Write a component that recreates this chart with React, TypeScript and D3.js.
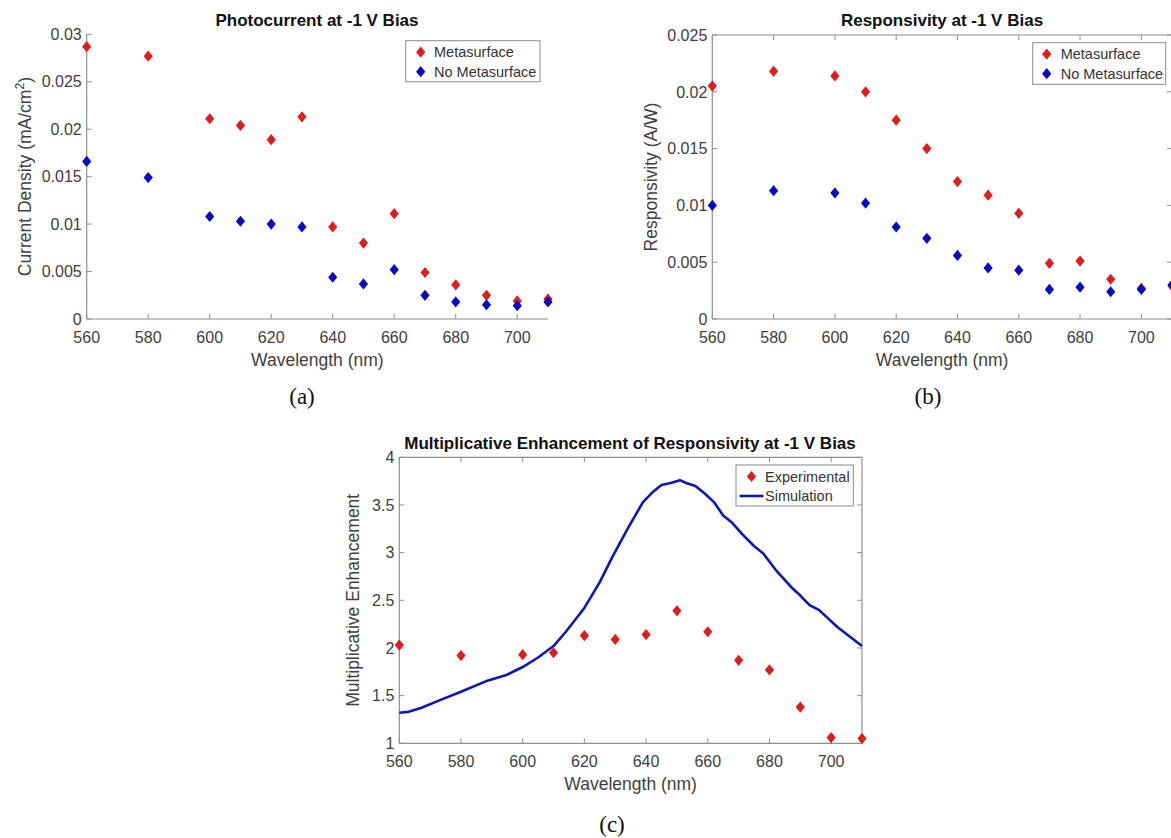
import React from 'react';
import * as d3 from 'd3';

// Wavelengths (nm) at which the photodetectors were measured
const wavelengths = [560, 580, 600, 610, 620, 630, 640, 650, 660, 670, 680, 690, 700, 710];

// (a) Photocurrent density at -1 V (mA/cm^2)
const currentMeta = [0.0287, 0.0277, 0.0211, 0.0204, 0.0189, 0.0213, 0.0097, 0.008, 0.0111, 0.0049, 0.0036, 0.0025, 0.0019, 0.0021];
const currentNoMeta = [0.0166, 0.0149, 0.0108, 0.0103, 0.01, 0.0097, 0.0044, 0.0037, 0.0052, 0.0025, 0.0018, 0.0015, 0.0014, 0.0018];

// (b) Responsivity at -1 V (A/W)
const respMeta = [0.0205, 0.0218, 0.0214, 0.02, 0.0175, 0.015, 0.0121, 0.0109, 0.0093, 0.0049, 0.0051, 0.0035, 0.0027, 0.0029];
const respNoMeta = [0.01, 0.0113, 0.0111, 0.0102, 0.0081, 0.0071, 0.0056, 0.0045, 0.0043, 0.0026, 0.0028, 0.0024, 0.0026, 0.003];

// (c) Enhancement factor, measured and simulated
const enhancementExp = [2.03, 1.92, 1.93, 1.95, 2.13, 2.09, 2.14, 2.39, 2.17, 1.87, 1.77, 1.38, 1.06, 1.05];
const simWavelengths = [560, 563, 567, 573, 580, 588, 595, 600, 605, 610, 614, 620, 625, 629, 634, 639, 642, 645, 648, 651, 653, 656, 659, 662, 665, 668, 671, 675, 678, 682, 687, 690, 693, 696, 699, 702, 706, 710];
const simEnhancement = [1.32, 1.33, 1.37, 1.45, 1.54, 1.65, 1.72, 1.8, 1.9, 2.02, 2.17, 2.42, 2.69, 2.95, 3.25, 3.53, 3.63, 3.71, 3.73, 3.76, 3.73, 3.7, 3.62, 3.53, 3.39, 3.31, 3.2, 3.07, 2.99, 2.82, 2.64, 2.55, 2.45, 2.4, 2.31, 2.22, 2.12, 2.02];

// Axis ticks
const xTicks = [560, 580, 600, 620, 640, 660, 680, 700];
const currentTicks = [0, 0.005, 0.01, 0.015, 0.02, 0.025, 0.03];
const respTicks = [0, 0.005, 0.01, 0.015, 0.02, 0.025];
const enhTicks = [1, 1.5, 2, 2.5, 3, 3.5, 4];

const RED = '#e01c1c';
const BLUE = '#0a0ac2';
const LINE_BLUE = '#0c16b8';
const AXIS = '#8f8f8f';
const TICK_TEXT = '#404040';
const SANS = '"Liberation Sans", Arial, Helvetica, sans-serif';
const SERIF = '"Liberation Serif", "Times New Roman", serif';

const fmt = d3.format('~g');

type Series = {
  kind: 'markers' | 'line';
  xs: number[];
  ys: number[];
  color: string;
  name: string;
};

type PanelProps = {
  left: number;
  right: number;
  top: number;
  bottom: number;
  yDomain: [number, number];
  yTicks: number[];
  title: string;
  titleX: number;
  titleY: number;
  yLabel: React.ReactNode;
  yLabelX: number;
  xLabelY: number;
  box: boolean;
  series: Series[];
  legend: { x: number; y: number; w: number; h: number; textX: number; markX: number };
  caption: string;
  captionX: number;
  captionY: number;
};

function Diamond({ cx, cy, color }: { cx: number; cy: number; color: string }) {
  const w = 4.6;
  const h = 5.6;
  return <path d={`M${cx},${cy - h}L${cx + w},${cy}L${cx},${cy + h}L${cx - w},${cy}Z`} fill={color} />;
}

function Panel(p: PanelProps) {
  const x = d3.scaleLinear().domain([560, 710]).range([p.left, p.right]);
  const y = d3.scaleLinear().domain(p.yDomain).range([p.bottom, p.top]);
  const tick = 5;
  const line = d3
    .line<[number, number]>()
    .x((d) => x(d[0]))
    .y((d) => y(d[1]));

  return (
    <g>
      {/* title */}
      <text x={p.titleX} y={p.titleY} textAnchor="middle" fontFamily={SANS} fontWeight="bold" fontSize={17} fill="#111">
        {p.title}
      </text>

      {/* axes */}
      <line x1={p.left} x2={p.right} y1={p.bottom} y2={p.bottom} stroke={AXIS} strokeWidth={1.2} />
      <line x1={p.left} x2={p.left} y1={p.top} y2={p.bottom} stroke={AXIS} strokeWidth={1.2} />
      {p.box && (
        <g>
          <line x1={p.left} x2={p.right} y1={p.top} y2={p.top} stroke={AXIS} strokeWidth={1.2} />
          <line x1={p.right} x2={p.right} y1={p.top} y2={p.bottom} stroke={AXIS} strokeWidth={1.2} />
        </g>
      )}

      {/* x ticks */}
      {xTicks.map((t) => (
        <g key={'x' + t}>
          <line x1={x(t)} x2={x(t)} y1={p.bottom} y2={p.bottom - tick} stroke={AXIS} strokeWidth={1} />
          {p.box && <line x1={x(t)} x2={x(t)} y1={p.top} y2={p.top + tick} stroke={AXIS} strokeWidth={1} />}
          <text x={x(t)} y={p.bottom + 23.5} textAnchor="middle" fontFamily={SANS} fontSize={16} fill={TICK_TEXT}>
            {fmt(t)}
          </text>
        </g>
      ))}

      {/* y ticks */}
      {p.yTicks.map((t) => (
        <g key={'y' + t}>
          <line x1={p.left} x2={p.left + tick} y1={y(t)} y2={y(t)} stroke={AXIS} strokeWidth={1} />
          {p.box && <line x1={p.right} x2={p.right - tick} y1={y(t)} y2={y(t)} stroke={AXIS} strokeWidth={1} />}
          <text x={p.left - 5} y={y(t) + 5.7} textAnchor="end" fontFamily={SANS} fontSize={16} fill={TICK_TEXT}>
            {fmt(t)}
          </text>
        </g>
      ))}

      {/* axis labels */}
      <text
        x={(p.left + p.right) / 2}
        y={p.xLabelY}
        textAnchor="middle"
        fontFamily={SANS}
        fontSize={17.5}
        fill={TICK_TEXT}
      >
        Wavelength (nm)
      </text>
      <text
        transform={`translate(${p.yLabelX},${(p.top + p.bottom) / 2}) rotate(-90)`}
        textAnchor="middle"
        fontFamily={SANS}
        fontSize={17.5}
        fill={TICK_TEXT}
      >
        {p.yLabel}
      </text>

      {/* data */}
      {p.series.map((s) =>
        s.kind === 'line' ? (
          <path
            key={s.name}
            d={line(s.xs.map((v, i) => [v, s.ys[i]] as [number, number])) || ''}
            fill="none"
            stroke={s.color}
            strokeWidth={2.6}
            strokeLinejoin="round"
          />
        ) : (
          <g key={s.name}>
            {s.xs.map((v, i) => (
              <Diamond key={i} cx={x(v)} cy={y(s.ys[i])} color={s.color} />
            ))}
          </g>
        )
      )}

      {/* legend */}
      <g>
        <rect x={p.legend.x} y={p.legend.y} width={p.legend.w} height={p.legend.h} fill="#fff" stroke="#8a8a8a" strokeWidth={1} />
        {p.series.map((s, i) => {
          const rowY = p.legend.y + 11.5 + i * 19.5;
          return (
            <g key={'lg' + s.name}>
              {s.kind === 'line' ? (
                <line x1={p.legend.markX - 12} x2={p.legend.markX + 12} y1={rowY} y2={rowY} stroke={s.color} strokeWidth={2.6} />
              ) : (
                <Diamond cx={p.legend.markX} cy={rowY} color={s.color} />
              )}
              <text x={p.legend.textX} y={rowY + 5} fontFamily={SANS} fontSize={14.5} fill="#333">
                {s.name}
              </text>
            </g>
          );
        })}
      </g>

      {/* caption */}
      <text x={p.captionX} y={p.captionY} textAnchor="middle" fontFamily={SERIF} fontSize={23} fill="#111">
        {p.caption}
      </text>
    </g>
  );
}

export default function App() {
  return (
    <svg
      width={1171}
      height={838}
      viewBox="0 0 1171 838"
      style={{ position: 'absolute', left: 0, top: 0, display: 'block', background: '#fff' }}
    >
      <rect x={0} y={0} width={1171} height={838} fill="#fff" />

      <Panel
        left={86.7}
        right={548}
        top={34.3}
        bottom={319}
        yDomain={[0, 0.03]}
        yTicks={currentTicks}
        title="Photocurrent at -1 V Bias"
        titleX={317}
        titleY={26}
        yLabel={
          <>
            Current Density (mA/cm
            <tspan baselineShift="super" fontSize={12}>2</tspan>)
          </>
        }
        yLabelX={31}
        xLabelY={366}
        box={false}
        series={[
          { kind: 'markers', xs: wavelengths, ys: currentMeta, color: RED, name: 'Metasurface' },
          { kind: 'markers', xs: wavelengths, ys: currentNoMeta, color: BLUE, name: 'No Metasurface' },
        ]}
        legend={{ x: 405.7, y: 40.7, w: 134.3, h: 41, markX: 420.7, textX: 434 }}
        caption="(a)"
        captionX={302}
        captionY={404}
      />

      <Panel
        left={712.3}
        right={1172}
        top={35}
        bottom={319}
        yDomain={[0, 0.025]}
        yTicks={respTicks}
        title="Responsivity at -1 V Bias"
        titleX={942}
        titleY={26}
        yLabel="Responsivity (A/W)"
        yLabelX={657}
        xLabelY={366}
        box={true}
        series={[
          { kind: 'markers', xs: wavelengths, ys: respMeta, color: RED, name: 'Metasurface' },
          { kind: 'markers', xs: wavelengths, ys: respNoMeta, color: BLUE, name: 'No Metasurface' },
        ]}
        legend={{ x: 1032.7, y: 42.7, w: 133, h: 41.6, markX: 1046.7, textX: 1060.7 }}
        caption="(b)"
        captionX={928}
        captionY={404}
      />

      <Panel
        left={399.3}
        right={862}
        top={457.3}
        bottom={743.3}
        yDomain={[1, 4]}
        yTicks={enhTicks}
        title="Multiplicative Enhancement of Responsivity at -1 V Bias"
        titleX={630}
        titleY={449}
        yLabel="Multiplicative Enhancement"
        yLabelX={359}
        xLabelY={789.5}
        box={true}
        series={[
          { kind: 'markers', xs: wavelengths, ys: enhancementExp, color: RED, name: 'Experimental' },
          { kind: 'line', xs: simWavelengths, ys: simEnhancement, color: LINE_BLUE, name: 'Simulation' },
        ]}
        legend={{ x: 736, y: 465, w: 117.3, h: 41, markX: 751.5, textX: 765 }}
        caption="(c)"
        captionX={612}
        captionY={832}
      />
    </svg>
  );
}
